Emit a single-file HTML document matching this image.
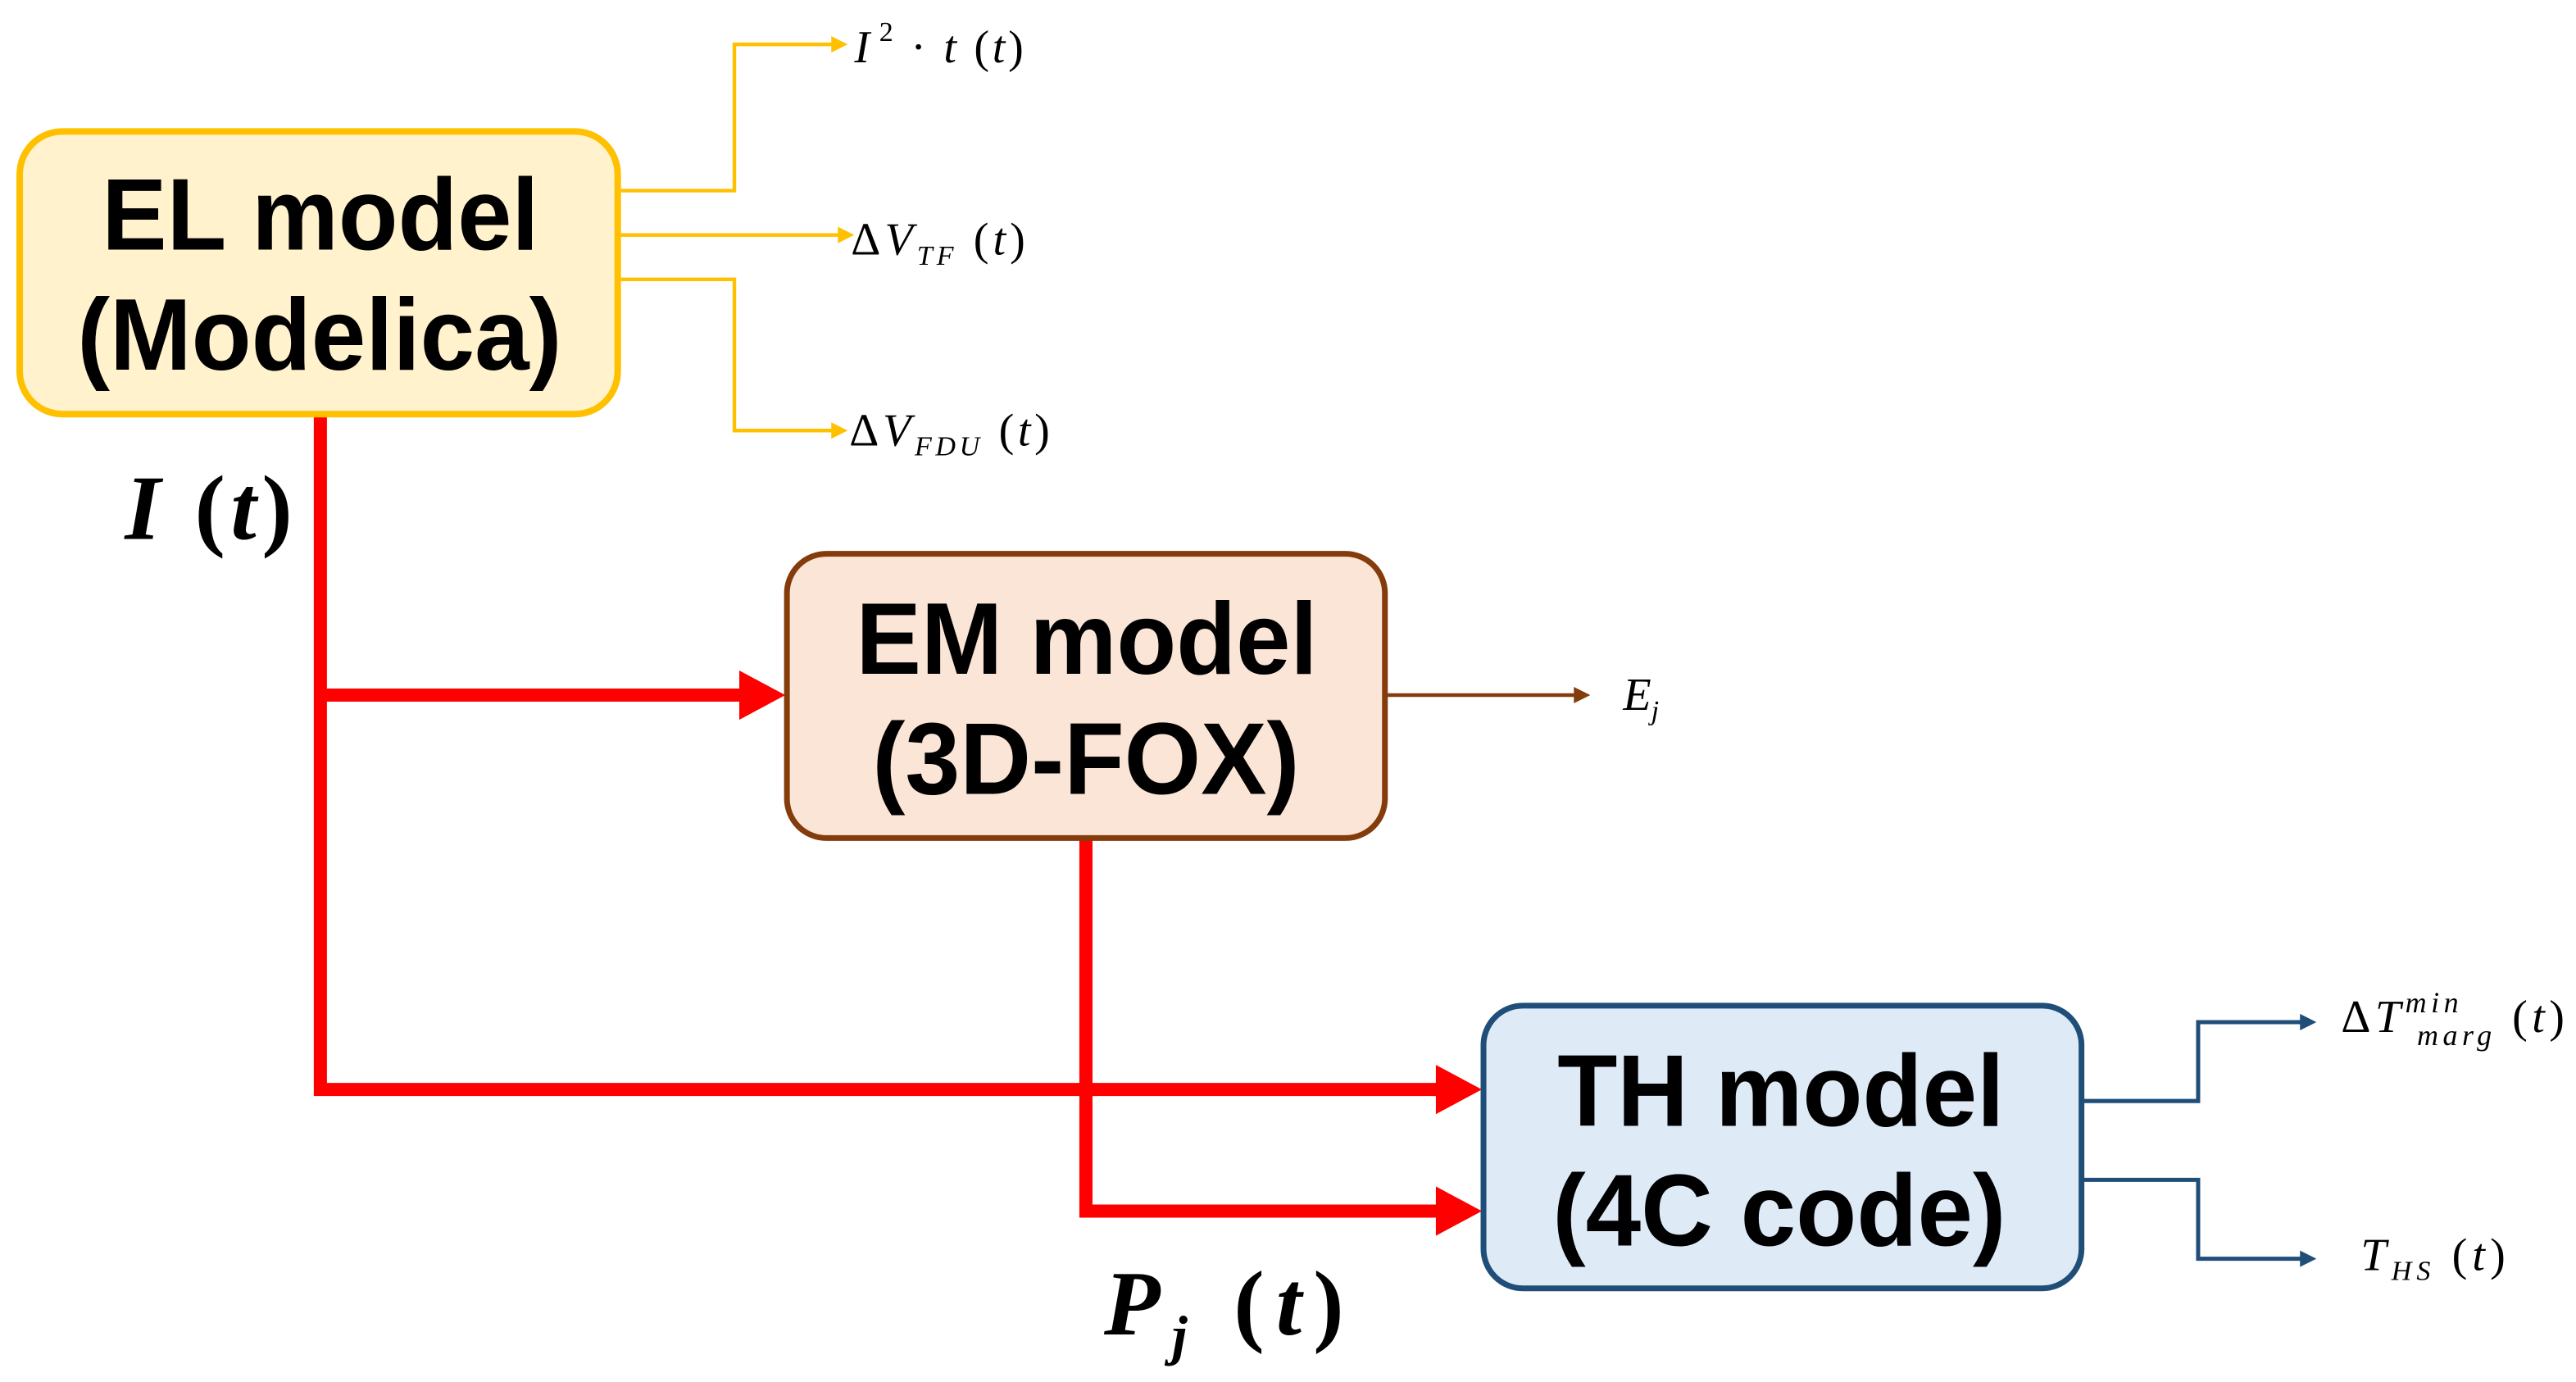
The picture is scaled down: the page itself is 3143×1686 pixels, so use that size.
<!DOCTYPE html>
<html><head><meta charset="utf-8"><style>
html,body{margin:0;padding:0;background:#fff;}
svg{display:block;}
.box{font-family:"Liberation Sans",Arial,sans-serif;font-weight:bold;fill:#000;}
.m{font-family:"Liberation Serif","DejaVu Serif",serif;font-style:italic;fill:#000;}
.mb{font-family:"Liberation Serif","DejaVu Serif",serif;font-style:italic;font-weight:bold;fill:#000;}
</style></head><body>
<svg width="3143" height="1686" viewBox="0 0 1568 841" preserveAspectRatio="none" xmlns="http://www.w3.org/2000/svg">
<g stroke="#ffc000" stroke-width="2.2" fill="none">
<polyline points="378,116 447,116 447,27 508,27"/>
<polyline points="378,143 512,143"/>
<polyline points="378,170 447,170 447,262 508,262"/>
</g>
<g fill="#ffc000">
<polygon points="506,22 516,27 506,32"/>
<polygon points="510,138 520,143 510,148"/>
<polygon points="506,257 516,262 506,267"/>
</g>
<g stroke="#ff0000" stroke-width="8" fill="none" stroke-linejoin="miter">
<polyline points="195,253 195,663 880,663"/>
<polyline points="195,423 452,423"/>
<polyline points="661,511 661,737 880,737"/>
</g>
<g fill="#ff0000">
<polygon points="450,408 478,423 450,438"/>
<polygon points="874,648 902,663 874,678"/>
<polygon points="874,722 902,737 874,752"/>
</g>
<line x1="844" y1="423" x2="960" y2="423" stroke="#843c0c" stroke-width="2.2"/>
<polygon points="958,418 968,423 958,428" fill="#843c0c"/>
<g stroke="#1f4e79" stroke-width="2.5" fill="none">
<polyline points="1268,670 1338,670 1338,622 1402,622"/>
<polyline points="1268,718 1338,718 1338,766 1402,766"/>
</g>
<g fill="#1f4e79">
<polygon points="1400,617 1410,622 1400,627"/>
<polygon points="1400,761 1410,766 1400,771"/>
</g>
<rect x="12" y="80" width="364" height="172" rx="26" fill="#fff2cc" stroke="#ffc000" stroke-width="4"/>
<rect x="479" y="337" width="364" height="173" rx="24" fill="#fbe5d6" stroke="#843c0c" stroke-width="3.5"/>
<rect x="903" y="612" width="364" height="172" rx="24" fill="#deebf7" stroke="#1f4e79" stroke-width="3.5"/>
<text class="box" x="62" y="152" font-size="62" textLength="266" lengthAdjust="spacingAndGlyphs">EL model</text>
<text class="box" x="47" y="225" font-size="62" textLength="295" lengthAdjust="spacingAndGlyphs">(Modelica)</text>
<text class="box" x="521" y="410" font-size="62" textLength="281" lengthAdjust="spacingAndGlyphs">EM model</text>
<text class="box" x="531" y="483" font-size="62" textLength="260" lengthAdjust="spacingAndGlyphs">(3D-FOX)</text>
<text class="box" x="948" y="685" font-size="62" textLength="272" lengthAdjust="spacingAndGlyphs">TH model</text>
<text class="box" x="945" y="758" font-size="62" textLength="276" lengthAdjust="spacingAndGlyphs">(4C code)</text>
<text class="m" x="520" y="38" font-size="28" textLength="103" lengthAdjust="spacing">I<tspan font-size="17" dy="-13" dx="4" font-style="normal">2</tspan><tspan dy="13" font-style="normal"> · </tspan>t <tspan font-style="normal">(</tspan>t<tspan font-style="normal">)</tspan></text>
<text class="m" x="518" y="155" font-size="28" textLength="106" lengthAdjust="spacing"><tspan font-style="normal">Δ</tspan>V<tspan font-size="17" dy="6">TF</tspan><tspan dy="-6"> </tspan><tspan font-style="normal">(</tspan>t<tspan font-style="normal">)</tspan></text>
<text class="m" x="517" y="271" font-size="28" textLength="122" lengthAdjust="spacing"><tspan font-style="normal">Δ</tspan>V<tspan font-size="17" dy="6">FDU</tspan><tspan dy="-6"> </tspan><tspan font-style="normal">(</tspan>t<tspan font-style="normal">)</tspan></text>
<text class="m" x="988" y="432" font-size="28">E<tspan font-size="17" dy="6">j</tspan></text>
<text class="m" x="1425" y="628" font-size="28" textLength="136" lengthAdjust="spacing"><tspan font-style="normal">Δ</tspan>T<tspan font-size="18" dy="-12">min</tspan><tspan font-size="18" dx="-28" dy="20">marg</tspan><tspan dy="-8"> </tspan><tspan font-style="normal">(</tspan>t<tspan font-style="normal">)</tspan></text>
<text class="m" x="1437" y="773" font-size="28" textLength="88" lengthAdjust="spacing">T<tspan font-size="17" dy="6">HS</tspan><tspan dy="-6"> </tspan><tspan font-style="normal">(</tspan>t<tspan font-style="normal">)</tspan></text>
<text class="mb" x="76" y="328" font-size="56" textLength="102" lengthAdjust="spacing">I <tspan font-style="normal">(</tspan>t<tspan font-style="normal">)</tspan></text>
<text class="mb" x="672" y="812" font-size="56" textLength="146" lengthAdjust="spacing">P<tspan font-size="34" dy="12">j</tspan><tspan dy="-12"> </tspan><tspan font-style="normal">(</tspan>t<tspan font-style="normal">)</tspan></text>
</svg>
</body></html>
